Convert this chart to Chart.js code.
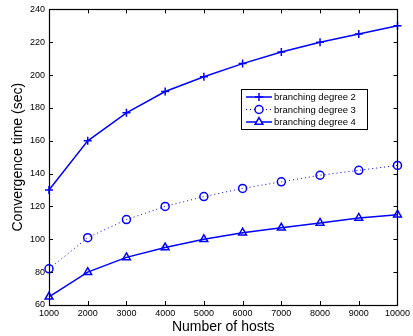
<!DOCTYPE html>
<html>
<head>
<meta charset="utf-8">
<script src="https://cdn.jsdelivr.net/npm/chart.js@4/dist/chart.umd.min.js"></script>
<style>
  html, body { margin: 0; padding: 0; background: #fff; }
  #wrap { width: 413px; height: 336px; }
</style>
</head>
<body>
<div id="wrap"><canvas id="chart" width="413" height="336"></canvas></div>
<script>
// Datos
const hosts = [1000, 2000, 3000, 4000, 5000, 6000, 7000, 8000, 9000, 10000];
const degree2 = [130, 160, 177, 190, 199, 207, 214, 220, 225, 230];
const degree3 = [82, 101, 112, 120, 126, 131, 135, 139, 142, 145];
const degree4 = [65, 80, 89, 95, 100, 104, 107, 110, 113, 115];
const yTicks = [60, 80, 100, 120, 140, 160, 180, 200, 220, 240];

const BLUE = "#0000ff";
const FONT = "'Liberation Sans', Arial, sans-serif";

// Marcas hacia dentro + caja, estilo MATLAB
const boxTicks = {
  id: "boxTicks",
  afterDraw(chart) {
    const { ctx, chartArea: a, scales } = chart;
    ctx.save();
    ctx.strokeStyle = "#000";
    ctx.lineWidth = 1;
    ctx.beginPath();
    hosts.forEach(v => {
      const x = Math.round(scales.x.getPixelForValue(v)) + 0.5;
      ctx.moveTo(x, a.bottom); ctx.lineTo(x, a.bottom - 4);
      ctx.moveTo(x, a.top); ctx.lineTo(x, a.top + 4);
    });
    yTicks.forEach(v => {
      const y = Math.round(scales.y.getPixelForValue(v)) + 0.5;
      ctx.moveTo(a.left, y); ctx.lineTo(a.left + 4, y);
      ctx.moveTo(a.right, y); ctx.lineTo(a.right - 4, y);
    });
    ctx.stroke();
    ctx.lineWidth = 1.2;
    ctx.strokeRect(Math.round(a.left) + 0.5, Math.round(a.top) + 0.5,
      Math.round(a.right - a.left), Math.round(a.bottom - a.top));
    ctx.restore();
  }
};

// Leyenda dibujada dentro del gráfico
const boxLegend = {
  id: "boxLegend",
  afterDraw(chart) {
    const { ctx } = chart;
    const x0 = 241, y0 = 89, w = 126, h = 40;
    ctx.save();
    ctx.fillStyle = "#fff";
    ctx.fillRect(x0, y0, w, h);
    ctx.strokeStyle = "#000";
    ctx.lineWidth = 1;
    ctx.strokeRect(x0 + 0.5, y0 + 0.5, w, h);
    ctx.font = "9.5px " + FONT;
    ctx.textBaseline = "middle";
    chart.data.datasets.forEach((ds, i) => {
      const y = y0 + 8 + i * 12.5;
      ctx.strokeStyle = BLUE;
      ctx.lineWidth = ds.borderWidth;
      ctx.setLineDash(ds.borderDash || []);
      ctx.beginPath();
      ctx.moveTo(x0 + 5, y); ctx.lineTo(x0 + 31, y);
      ctx.stroke();
      ctx.setLineDash([]);
      ctx.fillStyle = "#fff";
      ctx.lineWidth = ds.pointBorderWidth;
      Chart.helpers.drawPoint(ctx, {
        pointStyle: ds.pointStyle, radius: ds.pointRadius,
        borderWidth: ds.pointBorderWidth, rotation: 0
      }, x0 + 18, y);
      ctx.fillStyle = "#000";
      ctx.fillText(ds.label, x0 + 33, y + 0.5);
    });
    ctx.restore();
  }
};

new Chart(document.getElementById("chart"), {
  type: "line",
  data: {
    labels: hosts,
    datasets: [
      {
        label: "branching degree 2",
        data: degree2,
        borderColor: BLUE,
        borderWidth: 1.5,
        pointStyle: "cross",
        pointRadius: 4,
        pointBorderWidth: 1.5,
        pointBorderColor: BLUE,
        pointBackgroundColor: "transparent"
      },
      {
        label: "branching degree 3",
        data: degree3,
        borderColor: BLUE,
        borderWidth: 1,
        borderDash: [1, 3],
        pointStyle: "circle",
        pointRadius: 4,
        pointBorderWidth: 1.5,
        pointBorderColor: BLUE,
        pointBackgroundColor: "transparent"
      },
      {
        label: "branching degree 4",
        data: degree4,
        borderColor: BLUE,
        borderWidth: 1.5,
        pointStyle: "triangle",
        pointRadius: 4.5,
        pointBorderWidth: 1.5,
        pointBorderColor: BLUE,
        pointBackgroundColor: "transparent"
      }
    ].map(ds => Object.assign(ds, { tension: 0, fill: false, clip: false }))
  },
  options: {
    responsive: false,
    animation: false,
    layout: { padding: { top: 6, right: 14, left: 0, bottom: 0 } },
    plugins: {
      legend: { display: false },
      tooltip: { enabled: false }
    },
    scales: {
      x: {
        type: "linear",
        min: 1000,
        max: 10000,
        afterFit: s => { s.height = 31; },
        afterBuildTicks: s => { s.ticks = hosts.map(v => ({ value: v })); },
        grid: { display: false, drawTicks: false },
        border: { display: false },
        ticks: { color: "#000", padding: 3, maxRotation: 0, autoSkip: false,
          callback: v => String(v),
          font: { family: FONT, size: 9 } },
        title: { display: true, text: "Number of hosts", color: "#000",
          padding: { top: 0, bottom: 0 }, font: { family: FONT, size: 14 } }
      },
      y: {
        min: 60,
        max: 240,
        afterFit: s => { s.width = 49; },
        afterBuildTicks: s => { s.ticks = yTicks.map(v => ({ value: v })); },
        grid: { display: false, drawTicks: false },
        border: { display: false },
        ticks: { color: "#000", padding: 4, callback: v => String(v),
          font: { family: FONT, size: 9 } },
        title: { display: true, text: "Convergence time (sec)", color: "#000",
          padding: { top: 10, bottom: 0 }, font: { family: FONT, size: 14 } }
      }
    }
  },
  plugins: [boxTicks, boxLegend]
});
</script>
</body>
</html>
